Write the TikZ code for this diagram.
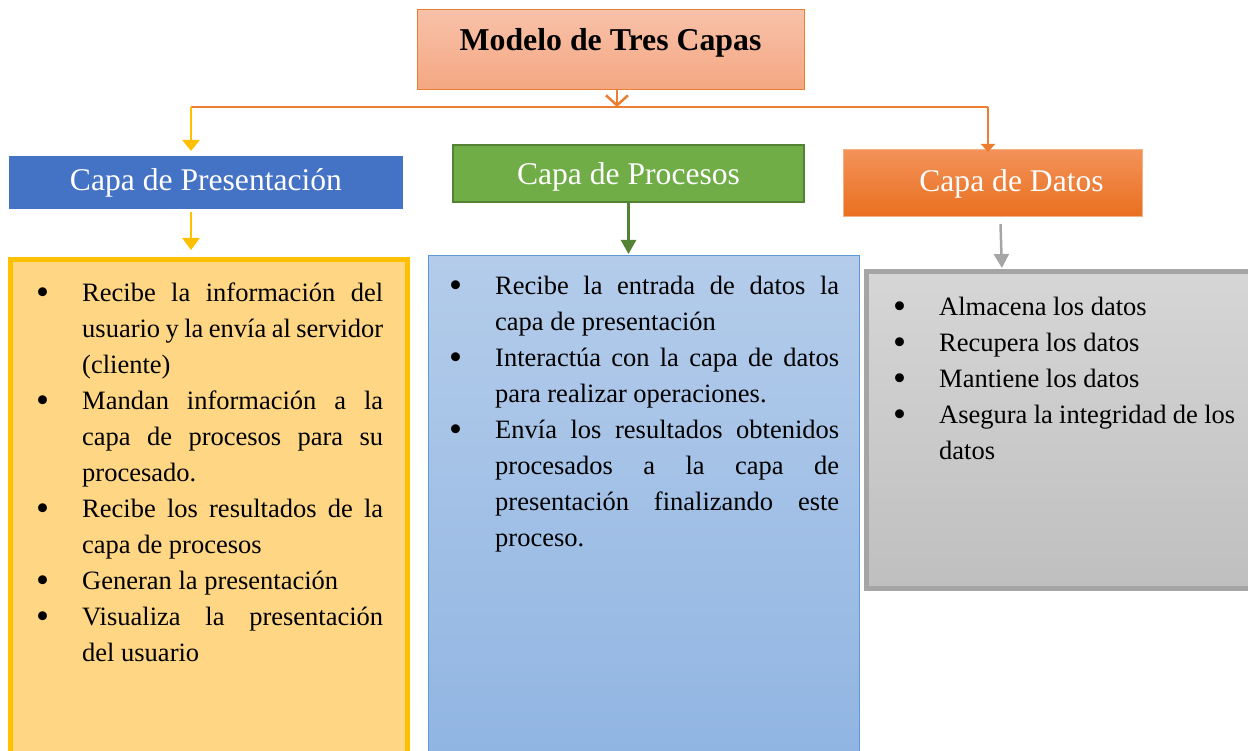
\documentclass[tikz,border=0pt]{standalone}
\usepackage{fontspec}
\setmainfont{Liberation Serif}
\usepackage{enumitem}
\usetikzlibrary{arrows.meta}
\usetikzlibrary{positioning}

\definecolor{titleTop}{HTML}{F8C1A9}
\definecolor{titleBot}{HTML}{F4A782}
\definecolor{lineOrange}{HTML}{ED7D31}
\definecolor{lineYellow}{HTML}{FFC000}
\definecolor{presBlue}{HTML}{4472C4}
\definecolor{procGreen}{HTML}{70AD47}
\definecolor{procDark}{HTML}{548235}
\definecolor{datTop}{HTML}{F3925A}
\definecolor{datBot}{HTML}{E96F1E}
\definecolor{datEdge}{HTML}{F4B183}
\definecolor{yelFill}{HTML}{FED684}
\definecolor{bluTop}{HTML}{B4CCEA}
\definecolor{bluBot}{HTML}{8FB4E2}
\definecolor{bluEdge}{HTML}{5B9BD5}
\definecolor{grayTop}{HTML}{D6D6D6}
\definecolor{grayBot}{HTML}{BFBFBF}
\definecolor{grayEdge}{HTML}{A5A5A5}

\newcommand{\bodyfont}{\fontsize{26.5}{36}\selectfont\hyphenpenalty=10000}
\newcommand{\dotmark}{\raisebox{-3pt}{\scalebox{1.4}{\textbullet}}}
\setlist[itemize]{label=\dotmark,align=left,leftmargin=46pt,labelwidth=16pt,labelsep=30pt,itemsep=0pt,topsep=0pt,parsep=0pt,partopsep=0pt}

\begin{document}
\begin{tikzpicture}[x=1pt,y=-1pt,
    box/.style={anchor=north west,inner sep=0pt,outer sep=0pt},
    header/.style={box,text=white,font=\fontsize{31.6}{36}\selectfont},
    bullets/.style={anchor=north west,inner sep=0pt,align=justify,font=\bodyfont},
    conn/.style={line width=2.5pt,color=lineOrange}]
  \useasboundingbox (0,0) rectangle (1248,751);
  \node[box,draw=lineOrange,line width=1pt,top color=titleTop,bottom color=titleBot,minimum width=387pt,minimum height=80pt,text height=22pt,text depth=20pt,font=\fontsize{31.8}{36}\selectfont\bfseries] (title) at (417,10) {Modelo de Tres Capas};
  \node[header,fill=presBlue,minimum width=394pt,minimum height=53pt] (presentacion) at (9,156) {Capa de Presentación};
  \node[header,fill=procGreen,draw=procDark,line width=2pt,minimum width=351pt,minimum height=57pt,text height=24pt,text depth=1pt] (procesos) at (453,145) {Capa de Procesos};
  \node[header,draw=datEdge,line width=1pt,top color=datTop,bottom color=datBot,minimum width=299pt,minimum height=67pt] (datos) at (843,150) {\hspace*{38pt}Capa de Datos};
  \node[box,fill=yelFill,draw=lineYellow,line width=5pt,minimum width=397pt,minimum height=520pt] (yellowbox) at (10,260) {};
  \node[box,draw=bluEdge,line width=1pt,top color=bluTop,bottom color=bluBot,minimum width=431pt,minimum height=520pt] (bluebox) at (428,256) {};
  \node[box,draw=grayEdge,line width=5pt,top color=grayTop,bottom color=grayBot,minimum width=400pt,minimum height=316pt] (graybox) at (866,272) {};
  \node[bullets,text width=349pt] (listpres) at (34,265) {%
    \begin{itemize}[leftmargin=48pt]
      \item Recibe la información del\linebreak usuario y la envía al servidor (cliente)
      \item Mandan información a la\linebreak capa de procesos para su\linebreak procesado.
      \item Recibe los resultados de la\linebreak capa de procesos
      \item Generan la presentación
      \item Visualiza la presentación\linebreak del usuario
    \end{itemize}};
  \node[bullets,text width=392pt] (listproc) at (447,258) {%
    \begin{itemize}[leftmargin=48pt]
      \item Recibe la entrada de datos la\linebreak capa de presentación
      \item Interactúa con la capa de datos\linebreak para realizar operaciones.
      \item Envía los resultados obtenidos\linebreak procesados a la capa de\linebreak presentación finalizando este\linebreak proceso.
    \end{itemize}};
  \node[bullets,text width=344pt] (listdat) at (891,279) {%
    \begin{itemize}[leftmargin=48pt]
      \item Almacena los datos
      \item Recupera los datos
      \item Mantiene los datos
      \item Asegura la integridad de los\linebreak datos
    \end{itemize}};
  \coordinate (split) at (617,107);
  \coordinate (ljoin) at (191,107);
  \coordinate (rjoin) at (988,107);
  \draw[conn,-{Straight Barb[length=10pt,width=22pt,line width=2.5pt]}] (title.south -| split) -- (split);
  \draw[conn] (ljoin) -- (rjoin);
  \draw[line width=2.5pt,color=lineYellow,-{Triangle[length=11pt,width=17pt]},shorten >=5pt] (ljoin) -- (presentacion.north -| ljoin);
  \draw[conn,-{Triangle[length=8pt,width=14pt]},shorten >=-2pt] (rjoin) -- (datos.north -| rjoin);
  \draw[line width=2.5pt,color=lineYellow,-{Triangle[length=12pt,width=17pt]},shorten <=3pt,shorten >=10pt] (presentacion.south -| ljoin) -- (yellowbox.north -| ljoin);
  \draw[line width=2.5pt,color=procDark,-{Triangle[length=14pt,width=15pt]},shorten <=1pt,shorten >=2pt] (procesos.south) -- (bluebox.north -| procesos.south);
  \draw[line width=2.5pt,color=grayEdge,-{Triangle[length=14pt,width=15pt]},shorten >=4pt] ([xshift=8pt,yshift=-7pt]datos.south) -- ([xshift=136pt]graybox.north west);
\end{tikzpicture}
\end{document}
